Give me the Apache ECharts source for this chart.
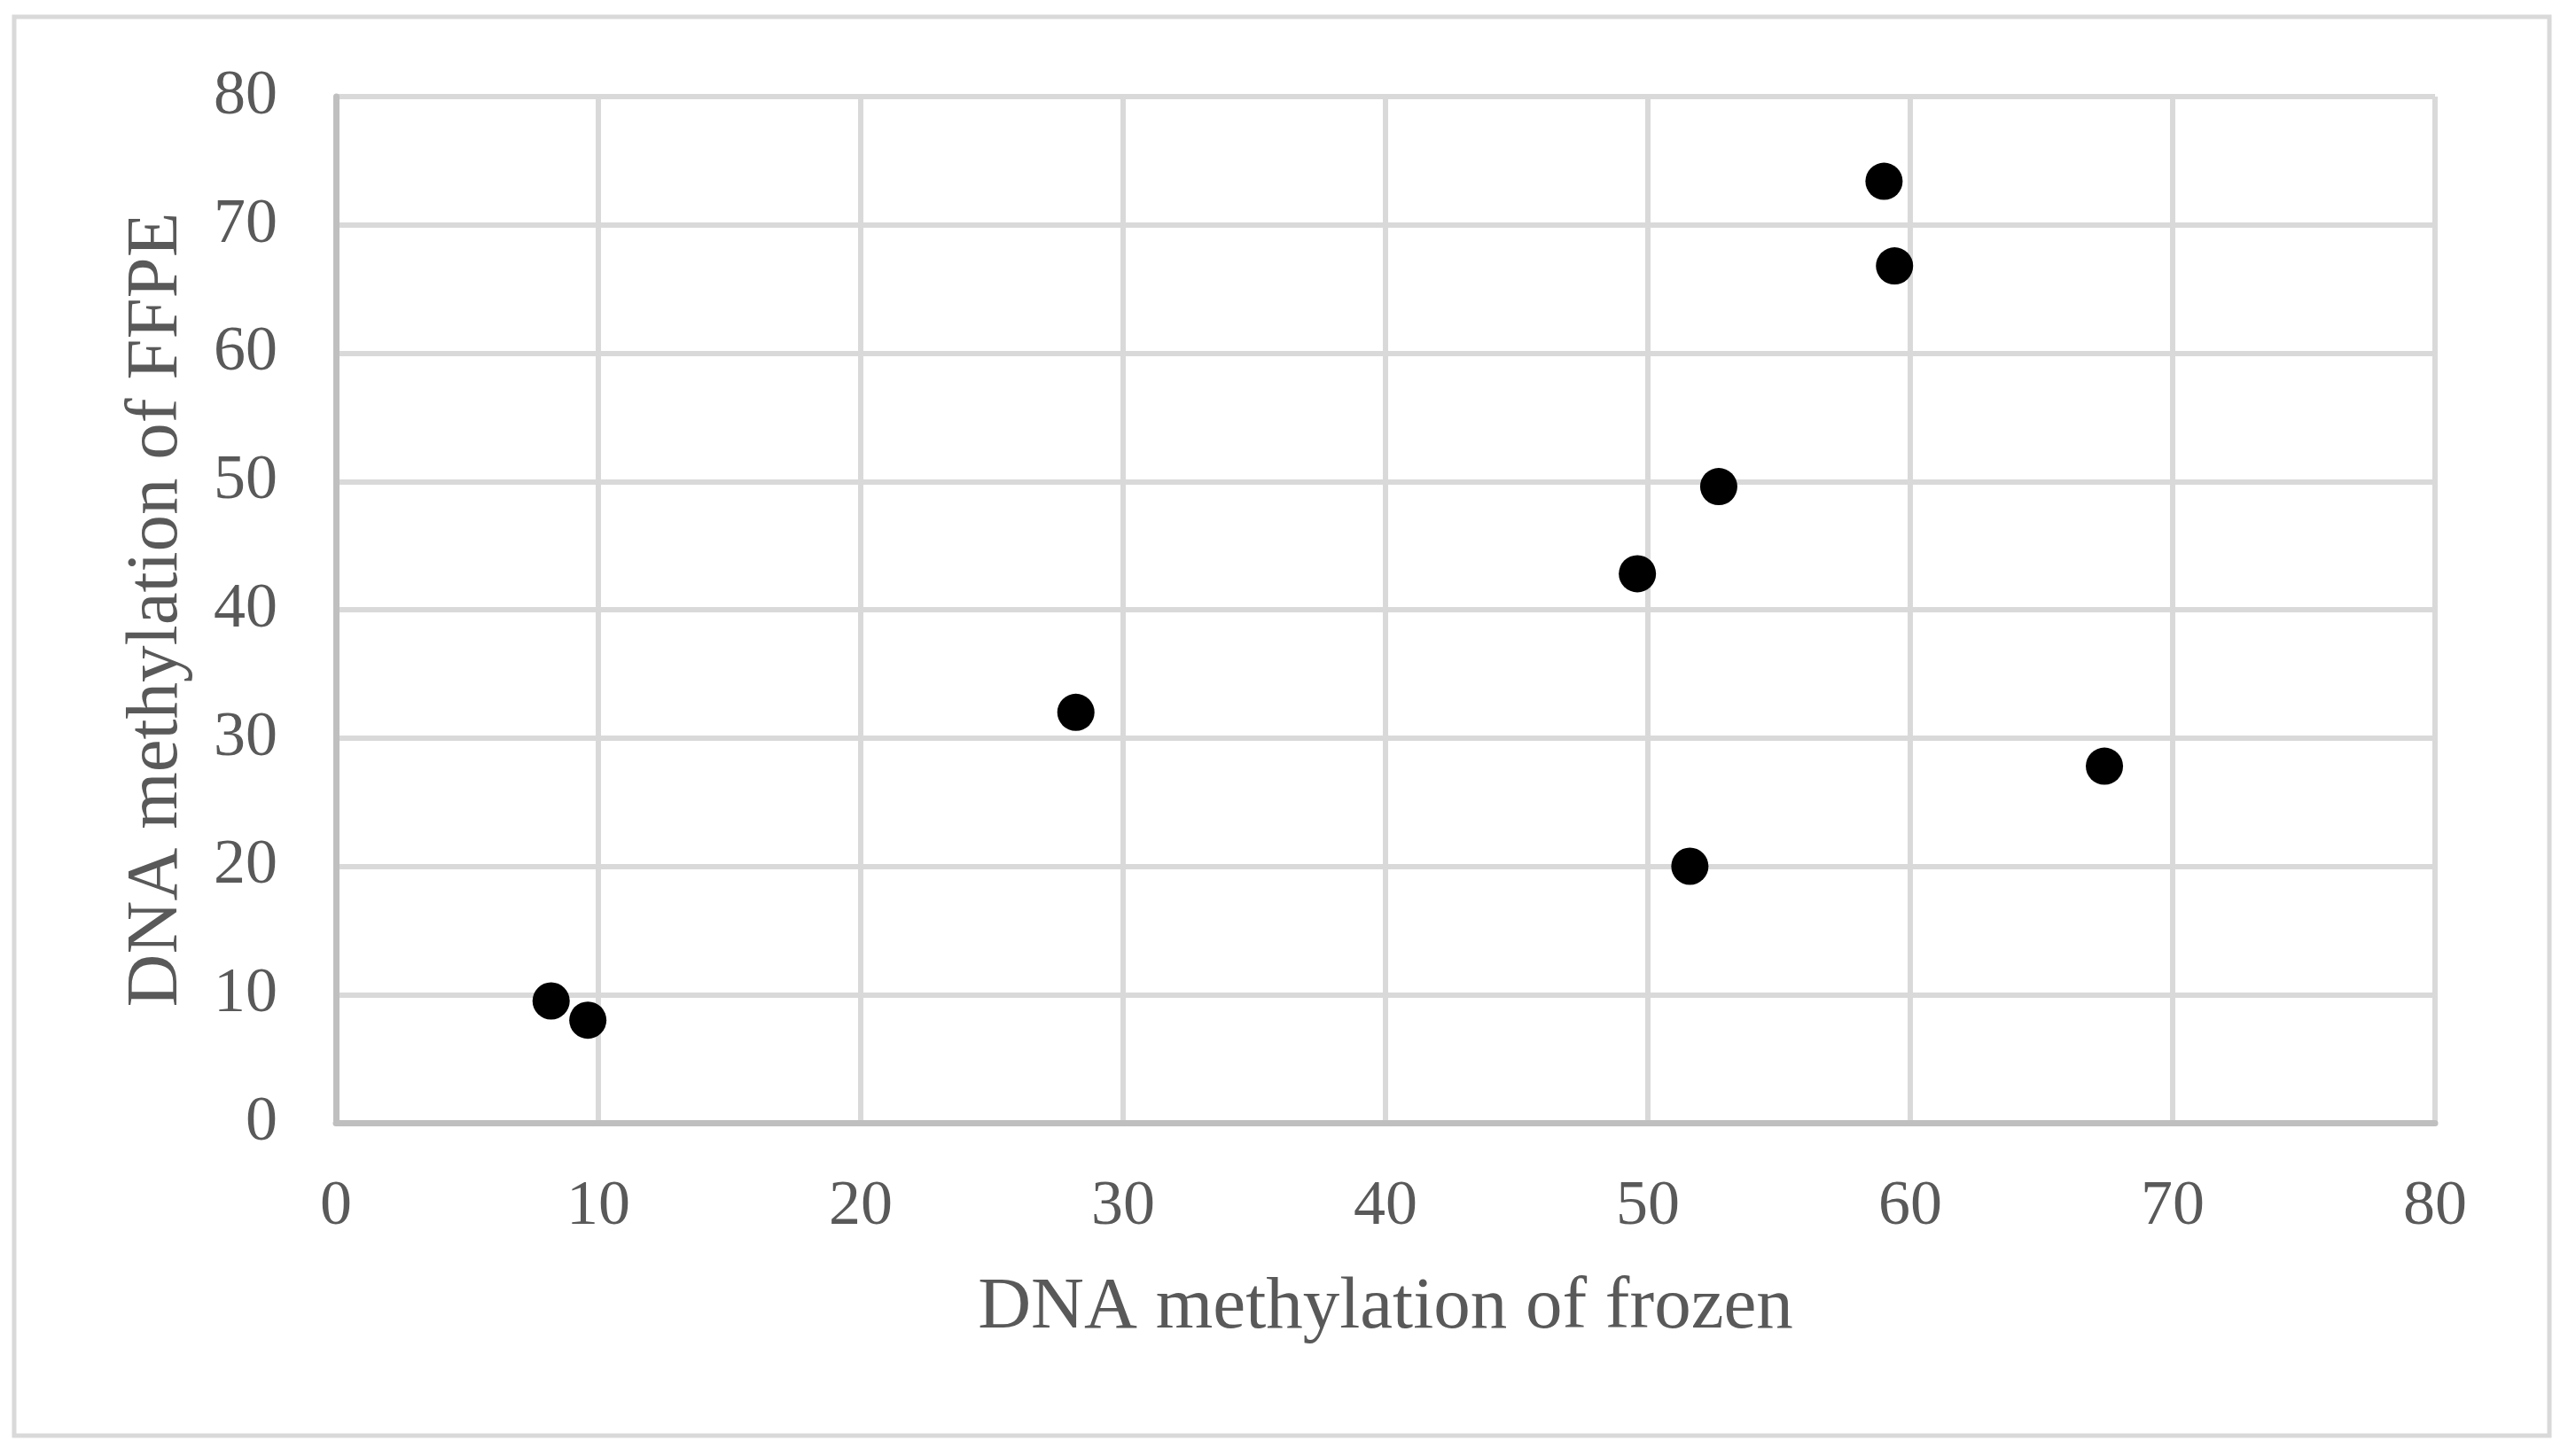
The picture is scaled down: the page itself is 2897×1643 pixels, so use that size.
<!DOCTYPE html>
<html>
<head>
<meta charset="utf-8">
<script src="https://cdn.jsdelivr.net/npm/echarts@6/dist/echarts.min.js"></script>
<style>
  html, body { margin: 0; padding: 0; background: #ffffff; }
  #chart { width: 2897px; height: 1643px; }
</style>
</head>
<body>
<div id="chart"></div>
<script>
// Data
const frozen = [8.2, 9.6, 28.2, 49.6, 52.7, 51.6, 59.0, 59.4, 67.4];
const ffpe   = [9.5, 8.0, 32.0, 42.8, 49.6, 20.0, 73.4, 66.8, 27.8];
const xAxisTitle = 'DNA methylation of frozen';
const yAxisTitle = 'DNA methylation of FFPE';
const axisMin = 0, axisMax = 80, axisStep = 10;

const points = frozen.map((x, i) => [x, ffpe[i]]);
const font = '"Liberation Serif", "Times New Roman", serif';
const textColor = '#595959';

const chart = echarts.init(document.getElementById('chart'), null, { renderer: 'canvas' });
chart.setOption({
  backgroundColor: '#ffffff',
  animation: false,
  graphic: [{
    type: 'rect',
    silent: true,
    z: -10,
    shape: { x: 16, y: 19, width: 2860, height: 1601 },
    style: { fill: 'none', stroke: '#d9d9d9', lineWidth: 5 }
  }],
  grid: { left: 379, right: 150, top: 109, bottom: 376, containLabel: false },
  xAxis: {
    type: 'value',
    min: axisMin, max: axisMax, interval: axisStep,
    name: xAxisTitle,
    nameLocation: 'middle',
    nameGap: 168,
    nameTextStyle: { fontFamily: font, fontSize: 83, color: textColor },
    axisLine: { show: true, lineStyle: { color: '#bfbfbf', width: 7 } },
    axisTick: { show: false },
    axisLabel: { fontFamily: font, fontSize: 72, color: textColor, margin: 59 },
    splitLine: { show: true, lineStyle: { color: '#d9d9d9', width: 6 } }
  },
  yAxis: {
    type: 'value',
    min: axisMin, max: axisMax, interval: axisStep,
    name: yAxisTitle,
    nameLocation: 'middle',
    nameGap: 160,
    nameTextStyle: { fontFamily: font, fontSize: 83, color: textColor },
    axisLine: { show: true, lineStyle: { color: '#bfbfbf', width: 7 } },
    axisTick: { show: false },
    axisLabel: { fontFamily: font, fontSize: 72, color: textColor, margin: 66 },
    splitLine: { show: true, lineStyle: { color: '#d9d9d9', width: 6 } }
  },
  series: [{
    type: 'scatter',
    data: points,
    symbol: 'circle',
    symbolSize: 42,
    itemStyle: { color: '#000000', opacity: 1 },
    z: 10
  }]
});
</script>
</body>
</html>
